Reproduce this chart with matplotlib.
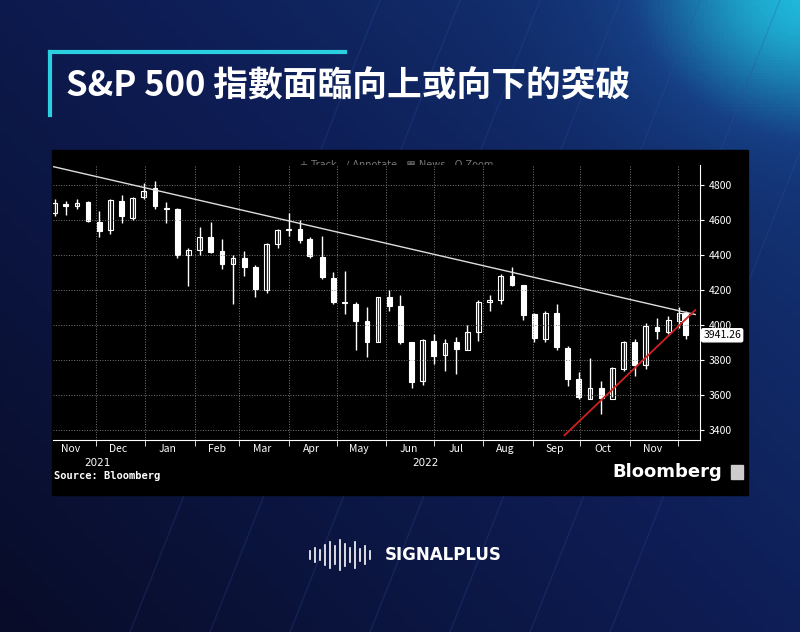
import matplotlib
matplotlib.use("Agg")
import matplotlib.pyplot as plt
import matplotlib.dates as mdates
import numpy as np
import pandas as pd

plt.rcParams['font.family'] = ['Noto Sans CJK TC', 'DejaVu Sans']

# weekly S&P 500 bars
week_end = ["2021-11-05", "2021-11-12", "2021-11-19", "2021-11-26", "2021-12-03", "2021-12-10",
            "2021-12-17", "2021-12-24", "2021-12-31", "2022-01-07", "2022-01-14", "2022-01-21",
            "2022-01-28", "2022-02-04", "2022-02-11", "2022-02-18", "2022-02-25", "2022-03-04",
            "2022-03-11", "2022-03-18", "2022-03-25", "2022-04-01", "2022-04-08", "2022-04-14",
            "2022-04-22", "2022-04-29", "2022-05-06", "2022-05-13", "2022-05-20", "2022-05-27",
            "2022-06-03", "2022-06-10", "2022-06-17", "2022-06-24", "2022-07-01", "2022-07-08",
            "2022-07-15", "2022-07-22", "2022-07-29", "2022-08-05", "2022-08-12", "2022-08-19",
            "2022-08-26", "2022-09-02", "2022-09-09", "2022-09-16", "2022-09-23", "2022-09-30",
            "2022-10-07", "2022-10-14", "2022-10-21", "2022-10-28", "2022-11-04", "2022-11-11",
            "2022-11-18", "2022-11-25", "2022-12-02", "2022-12-06"]
opens = [4640, 4690, 4680, 4700, 4590, 4540, 4710, 4610, 4730, 4780, 4670, 4660,
         4400, 4430, 4500, 4420, 4350, 4380, 4330, 4200, 4460, 4540, 4550, 4490,
         4390, 4270, 4130, 4120, 4020, 3900, 4160, 4110, 3900, 3680, 3910, 3830,
         3900, 3860, 3960, 4130, 4140, 4280, 4230, 4060, 3920, 4070, 3870, 3690,
         3580, 3640, 3580, 3750, 3900, 3770, 3990, 3960, 4020, 4070]
highs = [4720, 4710, 4720, 4710, 4650, 4720, 4740, 4730, 4810, 4820, 4700, 4670,
         4440, 4560, 4590, 4490, 4400, 4420, 4340, 4470, 4550, 4640, 4600, 4500,
         4510, 4300, 4310, 4130, 4100, 4160, 4200, 4170, 3900, 3920, 3950, 3920,
         3930, 4000, 4140, 4170, 4290, 4330, 4210, 4070, 4080, 4120, 3880, 3730,
         3810, 3680, 3760, 3910, 3920, 4010, 4040, 4050, 4100, 4080]
lows = [4620, 4630, 4660, 4590, 4500, 4520, 4580, 4600, 4720, 4660, 4580, 4380,
        4220, 4400, 4410, 4320, 4120, 4280, 4160, 4180, 4440, 4510, 4470, 4380,
        4260, 4120, 4060, 3860, 3820, 3900, 4080, 3890, 3640, 3660, 3780, 3740,
        3720, 3860, 3910, 4080, 4120, 4220, 4030, 3900, 3900, 3860, 3650, 3580,
        3580, 3490, 3590, 3740, 3710, 3750, 3920, 3950, 3980, 3920]
closes = [4697, 4682, 4698, 4594, 4538, 4712, 4620, 4725, 4766, 4677, 4662, 4398,
          4431, 4500, 4418, 4349, 4385, 4329, 4204, 4463, 4543, 4546, 4488, 4392,
          4272, 4132, 4123, 4023, 3901, 4158, 4109, 3901, 3675, 3912, 3825, 3899,
          3863, 3962, 4130, 4145, 4280, 4228, 4058, 3924, 4067, 3873, 3693, 3586,
          3640, 3583, 3752, 3901, 3771, 3993, 3965, 4026, 4071, 3941.26]

# trend lines (date, level)
resist_dates = ["2021-11-04", "2022-12-12"]
resist_levels = [4905, 4060]
support_dates = ["2022-09-21", "2022-12-12"]
support_levels = [3370, 4085]

month_labels = ["Nov", "Dec", "Jan", "Feb", "Mar", "Apr", "May", "Jun", "Jul", "Aug", "Sep", "Oct", "Nov"]
price_ticks = [3400, 3600, 3800, 4000, 4200, 4400, 4600, 4800]

W, H = 800, 632
fig = plt.figure(figsize=(8, 6.32), dpi=100)

# background
bg = fig.add_axes([0, 0, 1, 1])
yy, xx = np.mgrid[0:1:200j, 0:1:200j]
grad = 0.45 * xx + 0.35 * (1 - yy) + 0.5 * np.exp(-((xx - 1) ** 2 + yy ** 2) / 0.04)
bg.imshow(grad, cmap=matplotlib.colors.LinearSegmentedColormap.from_list(
    "bg", ["#080c28", "#0e1d55", "#163f85", "#1fb6d8"]), extent=[0, W, H, 0], aspect="auto")
for x0 in range(380, 900, 80):
    bg.plot([x0, x0 - 250], [0, H], color="#3050a0", alpha=0.25, lw=1)
bg.set_xlim(0, W)
bg.set_ylim(H, 0)
bg.axis("off")

# title box
bg.plot([50, 345], [52, 52], color="#2ad0e0", lw=3)
bg.plot([50, 50], [52, 115], color="#2ad0e0", lw=3)
bg.text(66, 86, "S&P 500 指數面臨向上或向下的突破", color="white", fontsize=25,
        fontweight="bold", va="center", ha="left")

# black chart panel
bg.add_patch(plt.Rectangle((52, 150), 696, 345, color="black", zorder=2))
bg.add_patch(plt.Rectangle((58, 166), 8, 8, color="white", zorder=3))
bg.text(70, 170, "S&P 500 INDEX", color="#dddddd", fontsize=7, va="center",
        family="DejaVu Sans", zorder=3)
bg.text(300, 165, "+ Track   ∕ Annotate   ▦ News   Q Zoom", color="#777777", fontsize=7,
        va="center", family="DejaVu Sans", zorder=3)
bg.text(54, 476, "Source: Bloomberg", color="white", fontsize=7.5, fontweight="bold",
        family="DejaVu Sans Mono", va="center", zorder=3)
bg.text(722, 472, "Bloomberg", color="white", fontsize=13, fontweight="bold",
        family="DejaVu Sans", va="center", ha="right", zorder=3)
bg.add_patch(plt.Rectangle((731, 465), 12, 14, color="#cccccc", zorder=3))

# SIGNALPLUS logo
bars_h = [8, 14, 10, 20, 26, 18, 30, 22, 14, 26, 12, 18, 8]
for i, h in enumerate(bars_h):
    bg.plot([310 + i * 5, 310 + i * 5], [555 - h / 2, 555 + h / 2], color="white", lw=1.2, zorder=3)
bg.text(385, 555, "SIGNALPLUS", color="white", fontsize=12, fontweight="bold",
        family="DejaVu Sans", va="center", zorder=3)

# price axes
ax = fig.add_axes([53 / W, (H - 440) / H, (700 - 53) / W, 275 / H], zorder=5)
ax.set_facecolor("black")
d = mdates.date2num(pd.to_datetime(week_end))
o, h, l, c = map(np.array, (opens, highs, lows, closes))
ax.vlines(d, l, h, color="white", lw=1)
up = c >= o
ax.bar(d[up], (c - o)[up], bottom=o[up], width=3, color="black", edgecolor="white", lw=0.8)
ax.bar(d[~up], (o - c)[~up], bottom=c[~up], width=3, color="white", edgecolor="white", lw=0.8)

ax.plot(mdates.date2num(pd.to_datetime(resist_dates)), resist_levels, color="#dddddd", lw=1)
ax.plot(mdates.date2num(pd.to_datetime(support_dates)), support_levels, color="#d02020", lw=1.3)

ax.set_xlim(mdates.date2num(pd.Timestamp("2021-11-04")), mdates.date2num(pd.Timestamp("2022-12-15")))
ax.set_ylim(3343, 4914)
ax.yaxis.tick_right()
ax.set_yticks(price_ticks)
ax.tick_params(axis="y", colors="white", labelsize=7.5, length=3)
mids = pd.date_range("2021-11-01", periods=13, freq="MS") + pd.Timedelta(days=14)
ax.set_xticks(mdates.date2num(mids))
ax.set_xticklabels(month_labels)
ax.set_xticks(mdates.date2num(pd.date_range("2021-12-01", "2022-12-01", freq="MS")), minor=True)
ax.tick_params(axis="x", which="major", length=0, colors="white", labelsize=7.5, pad=3)
ax.tick_params(axis="x", which="minor", length=4, color="white")
ax.grid(True, which="minor", axis="x", color="#777777", ls=":", lw=0.7)
ax.grid(True, which="major", axis="y", color="#777777", ls=":", lw=0.7)
for s in ("top", "left"):
    ax.spines[s].set_visible(False)
ax.spines["bottom"].set_color("white")
ax.spines["right"].set_color("white")
ax.text(1.005, (3941.26 - 3343) / (4914 - 3343), "3941.26", transform=ax.transAxes, fontsize=7.5,
        va="center", ha="left", color="black",
        bbox=dict(boxstyle="round,pad=0.15", fc="white", ec="white"))
ax.text(0.068, -0.065, "2021", transform=ax.transAxes, color="white", fontsize=7.5, ha="center",
        va="top", family="DejaVu Sans")
ax.text(0.575, -0.065, "2022", transform=ax.transAxes, color="white", fontsize=7.5, ha="center",
        va="top", family="DejaVu Sans")

fig.savefig("out.png", dpi=100)
